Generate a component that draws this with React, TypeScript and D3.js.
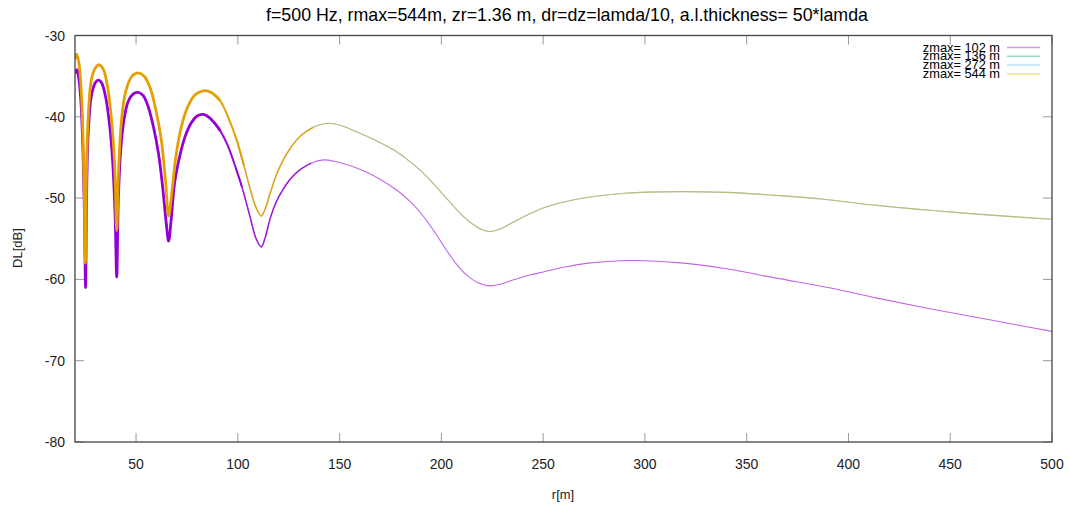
import React from "react";
import * as d3 from "d3";

// ---- data ----
const titleText = "f=500 Hz, rmax=544m, zr=1.36 m, dr=dz=lamda/10, a.l.thickness= 50*lamda";
const xTicks = [50, 100, 150, 200, 250, 300, 350, 400, 450, 500];
const yTicks = [-30, -40, -50, -60, -70, -80];

const r102 = [20, 21, 22, 23, 24, 24.7, 25.2, 25.8, 26.5, 28, 30, 31.5, 33, 35, 37, 38.5, 39.7, 40.5, 41.3, 42.5, 44, 46, 48.5, 51, 53.5, 56, 58.5, 61, 63, 64.8, 66, 67.3, 69, 71.5, 74, 77, 80, 83, 86, 89, 91.3, 95, 99, 102, 106, 109, 111.5, 113.5, 116, 119, 122.3, 126, 130.6, 136, 142, 148, 155, 163, 170, 178, 185, 191, 197, 203, 208, 213, 218, 224, 229, 236, 243, 250, 260, 272, 288, 300, 319, 340, 366, 390, 414, 440, 470, 500];
const dl102 = [-34.7, -34.2, -35.5, -38.5, -45, -53, -61, -48, -42, -37.5, -35.8, -35.5, -35.8, -37.5, -41, -45.5, -52, -59.7, -50, -44, -40.5, -38.2, -37.2, -37.0, -37.4, -38.8, -41.2, -44.5, -48.5, -53, -55.3, -52.5, -48, -44.8, -42.5, -40.8, -39.9, -39.7, -40.1, -40.9, -41.7, -43.5, -46.3, -48.6, -52.3, -55, -56.0, -54.8, -52.4, -50.4, -48.9, -47.6, -46.5, -45.7, -45.3, -45.5, -46.0, -46.8, -47.7, -49.0, -50.5, -52.2, -54.3, -56.6, -58.3, -59.6, -60.4, -60.8, -60.6, -60.0, -59.5, -59.1, -58.5, -58.0, -57.7, -57.7, -58.0, -58.7, -59.9, -61.0, -62.3, -63.6, -65.0, -66.4];

const rUpper = [20, 20.8, 22, 23, 24, 24.6, 25.1, 25.7, 26.5, 28, 30, 32, 34, 36, 38, 39.5, 40.5, 41.5, 43, 45, 48, 51, 54, 57, 60, 62.5, 64.5, 66, 67.5, 69.5, 72, 75, 79, 83, 87, 91.3, 95, 99.5, 103, 106, 109, 111.5, 113.5, 116, 119, 122.3, 126, 130.6, 137, 144, 151, 158, 163.4, 170, 178, 185, 191, 196, 201, 206, 211, 216, 220, 224, 229, 235, 242, 249, 258, 272, 290, 317, 340, 366, 390, 414, 440, 470, 500];
const dl136 = [-32.9, -32.3, -33.5, -36.5, -43, -50, -58, -46, -40, -35.5, -34, -33.6, -34.2, -36.3, -40.5, -46, -54, -46, -40, -36.8, -35.0, -34.6, -35.0, -36.5, -39.5, -43, -48, -52.2, -49.5, -45, -41.5, -39.0, -37.3, -36.8, -37.0, -38.0, -39.9, -42.9, -46, -48.8, -51.2, -52.2, -51.3, -49.3, -47.1, -45.3, -43.8, -42.4, -41.3, -40.8, -41.1, -41.8, -42.4, -43.2, -44.3, -45.6, -46.9, -48.2, -49.6, -51.0, -52.3, -53.3, -53.9, -54.1, -53.8, -53.0, -52.1, -51.3, -50.6, -49.9, -49.4, -49.2, -49.3, -49.7, -50.2, -50.9, -51.5, -52.1, -52.6];
const dl272 = dl136;
const dl544 = dl136;

const seriesNames = ["zmax= 102 m", "zmax= 136 m", "zmax= 272 m", "zmax= 544 m"];
const seriesColors = ["#9400D3", "#009E73", "#56B4E9", "#E69F00"];

const W = 1069, H = 506;
const M = { left: 75, right: 1052, top: 35.5, bottom: 442 };

export default function App() {
  const x = d3.scaleLinear().domain([20, 500]).range([M.left, M.right]);
  const y = d3.scaleLinear().domain([-80, -30]).range([M.bottom, M.top]);

  const series = [
    { r: r102, v: dl102 },
    { r: rUpper, v: dl136 },
    { r: rUpper, v: dl272 },
    { r: rUpper, v: dl544 },
  ].map((s, i) => ({
    name: seriesNames[i],
    color: seriesColors[i],
    pts: s.r.map((r, j) => [r, s.v[j]] as [number, number]),
  }));

  const line = d3
    .line<[number, number]>()
    .x((d) => x(d[0]))
    .y((d) => y(d[1]))
    .curve(d3.curveCatmullRom.alpha(0.5));

  const farOpacity = [0.6, 0.3, 0.3, 0.45];
  const font = "'Liberation Sans', Arial, sans-serif";
  const tickLen = 9;

  return (
    <svg width={W} height={H} style={{ position: "absolute", left: 0, top: 0, background: "#fff" }} fontFamily={font}>
      <rect x={0} y={0} width={W} height={H} fill="#fff" />
      <text x={567} y={21} textAnchor="middle" fontSize={17.8} fill="#000">{titleText}</text>

      {/* ticks */}
      {xTicks.map((t) => (
        <g key={"x" + t}>
          <line x1={x(t)} x2={x(t)} y1={M.bottom} y2={M.bottom - tickLen} stroke="#999" />
          <line x1={x(t)} x2={x(t)} y1={M.top} y2={M.top + tickLen} stroke="#999" />
          <text x={x(t)} y={469} textAnchor="middle" fontSize={14} fill="#222">{t}</text>
        </g>
      ))}
      {yTicks.map((t) => (
        <g key={"y" + t}>
          <line x1={M.left} x2={M.left + tickLen} y1={y(t)} y2={y(t)} stroke="#999" />
          <line x1={M.right} x2={M.right - tickLen} y1={y(t)} y2={y(t)} stroke="#999" />
          <text x={65} y={y(t) + 5} textAnchor="end" fontSize={14} fill="#222">{t}</text>
        </g>
      ))}

      <text x={563} y={499} textAnchor="middle" fontSize={13} fill="#222">r[m]</text>
      <text transform={`translate(22,248) rotate(-90)`} textAnchor="middle" fontSize={13} fill="#222">DL[dB]</text>

      <clipPath id="plotclip">
        <rect x={M.left} y={M.top} width={M.right - M.left} height={M.bottom - M.top} />
      </clipPath>

      <g clipPath="url(#plotclip)">
        {series.map((s, i) => (
          <g key={s.name}>
            <path d={line(s.pts) || ""} fill="none" stroke={s.color} strokeWidth={1.1} strokeOpacity={farOpacity[i]} />
            {(i === 0 || i === 3) && (
              <>
                <path d={line(s.pts.filter((p) => p[0] <= 92)) || ""} fill="none" stroke={s.color} strokeWidth={2.8} strokeOpacity={1} />
                <path d={line(s.pts.filter((p) => p[0] >= 86 && p[0] <= 104)) || ""} fill="none" stroke={s.color} strokeWidth={2} strokeOpacity={0.9} />
                <path d={line(s.pts.filter((p) => p[0] >= 99 && p[0] <= 140)) || ""} fill="none" stroke={s.color} strokeWidth={1.5} strokeOpacity={0.8} />
              </>
            )}
          </g>
        ))}
      </g>

      {/* border */}
      <rect x={M.left} y={M.top} width={M.right - M.left} height={M.bottom - M.top} fill="none" stroke="#444" strokeWidth={1.3} />

      {/* legend */}
      {series.map((s, i) => (
        <g key={"leg" + i}>
          <text x={1000} y={51.5 + i * 8.8} textAnchor="end" fontSize={12.8} fill="#000">{s.name}</text>
          <line x1={1007} x2={1040} y1={47.5 + i * 8.8} y2={47.5 + i * 8.8} stroke={s.color} strokeWidth={1.5} strokeOpacity={0.4} />
        </g>
      ))}
    </svg>
  );
}
